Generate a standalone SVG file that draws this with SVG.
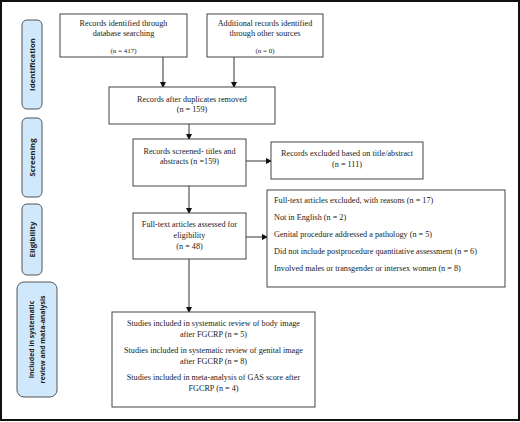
<svg xmlns="http://www.w3.org/2000/svg" width="520" height="422" viewBox="0 0 520 422">
<defs>
<marker id="ah" markerWidth="6" markerHeight="6" refX="5" refY="3" orient="auto" markerUnits="userSpaceOnUse">
<path d="M0,0 L6,3 L0,6 Z" fill="#111"/>
</marker>
<style>
.box{fill:#fff;stroke:#444;stroke-width:1}
.lab{fill:#cfe8fb;stroke:#555;stroke-width:1}
.t{font-family:"Liberation Serif","Times New Roman",serif;font-size:8.2px;fill:#222}
.s{font-family:"Liberation Serif","Times New Roman",serif;font-size:7px;fill:#222}
.c{text-anchor:middle}
.side{font-family:"Open Sans","DejaVu Sans",sans-serif;font-size:7.8px;font-weight:bold;fill:#222;text-anchor:middle}
.side2{font-size:6.9px}
.con{stroke:#333;stroke-width:1;fill:none;marker-end:url(#ah)}
</style>
</defs>
<rect x="1" y="1" width="518" height="419" fill="#fff" stroke="#111" stroke-width="2"/>
<g id="label-identification">
<rect class="lab" x="22" y="20" width="20" height="89" rx="5"/>
<text class="side" transform="translate(35,64.5) rotate(-90)">Identification</text>
</g>
<g id="label-screening">
<rect class="lab" x="22" y="118" width="20" height="79" rx="5"/>
<text class="side" transform="translate(35,157.5) rotate(-90)">Screening</text>
</g>
<g id="label-eligibility">
<rect class="lab" x="22" y="204" width="20" height="71" rx="5"/>
<text class="side" transform="translate(35,239.5) rotate(-90)">Eligibility</text>
</g>
<g id="label-included">
<rect class="lab" x="17" y="282" width="40" height="115" rx="7"/>
<text class="side side2" transform="translate(34,339.5) rotate(-90)">Included in systematic</text>
<text class="side side2" transform="translate(45,339.5) rotate(-90)">review and mata-analysis</text>
</g>
<g id="connectors">
<line class="con" x1="163" y1="57" x2="163" y2="87"/>
<line class="con" x1="234" y1="57" x2="234" y2="87"/>
<line class="con" x1="189" y1="124" x2="189" y2="139"/>
<line class="con" x1="246" y1="161" x2="271" y2="161"/>
<line class="con" x1="189" y1="186" x2="189" y2="213"/>
<line class="con" x1="246" y1="237" x2="267" y2="237"/>
<line class="con" x1="189" y1="259" x2="189" y2="312"/>
</g>
<g id="box-database">
<rect class="box" x="60" y="14" width="127" height="43"/>
<text class="t c" x="123.5" y="26">Records identified through</text>
<text class="t c" x="123.5" y="36">database searching</text>
<text class="s c" x="123.5" y="53">(n = 417)</text>
</g>
<g id="box-other">
<rect class="box" x="207" y="14" width="116" height="43"/>
<text class="t c" x="265" y="26">Additional records identified</text>
<text class="t c" x="265" y="36">through other sources</text>
<text class="s c" x="265" y="53">(n = 0)</text>
</g>
<g id="box-duplicates">
<rect class="box" x="109" y="87" width="166" height="37"/>
<text class="t c" x="192" y="102">Records after duplicates removed</text>
<text class="t c" x="192" y="112">(n = 159)</text>
</g>
<g id="box-screened">
<rect class="box" x="133" y="139" width="113" height="47"/>
<text class="t c" x="189.5" y="154">Records screened- titles and</text>
<text class="t c" x="189.5" y="164">abstracts (n =159)</text>
</g>
<g id="box-excluded">
<rect class="box" x="271" y="142" width="152" height="37"/>
<text class="t c" x="347" y="156">Records excluded based on title/abstract</text>
<text class="t c" x="347" y="167">(n = 111)</text>
</g>
<g id="box-fulltext">
<rect class="box" x="133" y="213" width="113" height="46"/>
<text class="t c" x="189.5" y="227">Full-text articles assessed for</text>
<text class="t c" x="189.5" y="238">eligibility</text>
<text class="t c" x="189.5" y="249">(n = 48)</text>
</g>
<g id="box-fulltext-excluded">
<rect class="box" x="267" y="190" width="238" height="97"/>
<text class="t" x="274" y="203">Full-text articles excluded, with reasons (n = 17)</text>
<text class="t" x="274" y="220">Not in English (n = 2)</text>
<text class="t" x="274" y="237">Genital procedure addressed a pathology (n = 5)</text>
<text class="t" x="274" y="254">Did not include postprocedure quantitative assessment (n = 6)</text>
<text class="t" x="274" y="271">Involved males or transgender or intersex women (n = 8)</text>
</g>
<g id="box-included">
<rect class="box" x="112" y="312" width="203" height="95"/>
<text class="t c" x="213.5" y="326">Studies included in systematic review of body image</text>
<text class="t c" x="213.5" y="337">after FGCRP (n = 5)</text>
<text class="t c" x="213.5" y="353">Studies included in systematic review of genital image</text>
<text class="t c" x="213.5" y="364">after FGCRP (n = 8)</text>
<text class="t c" x="213.5" y="380">Studies included in meta-analysis of GAS score after</text>
<text class="t c" x="213.5" y="391">FGCRP (n = 4)</text>
</g>
</svg>
